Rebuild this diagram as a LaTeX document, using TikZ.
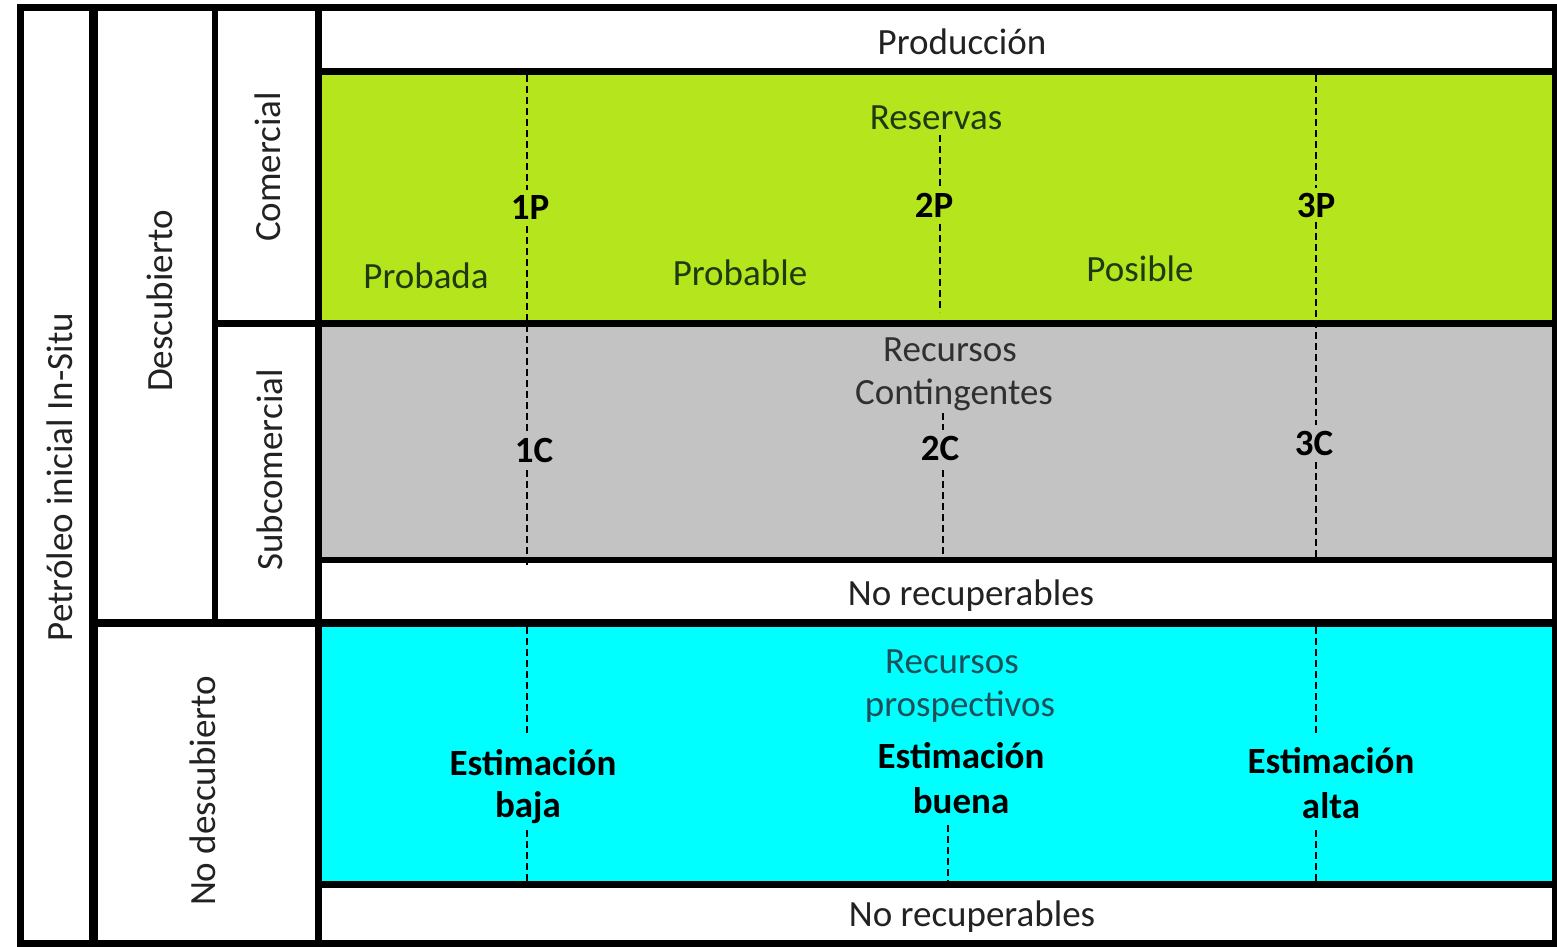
\documentclass[tikz,border=0pt]{standalone}
\usepackage{fontspec}
\setmainfont{Carlito}
\definecolor{lime}{HTML}{B5E61D}
\definecolor{grayband}{HTML}{C3C3C3}
\definecolor{cyanband}{HTML}{00FFFF}
\definecolor{txtw}{HTML}{222222}
\definecolor{txtg}{HTML}{1E3A10}
\definecolor{txtc}{HTML}{1F4F5A}
\definecolor{txtgr}{HTML}{303030}
\begin{document}
\begin{tikzpicture}[x=1pt,y=-1pt,
  every node/.style={font=\fontsize{37}{44}\selectfont, inner sep=0pt},
  lbl/.style={text=txtw},
  lblg/.style={text=txtg},
  lblc/.style={text=txtc},
  lblgr/.style={text=txtgr},
  boldlbl/.style={font=\fontsize{37}{44}\selectfont\bfseries, text=black, align=center},
  rot/.style={rotate=90, text=txtw},
  frameln/.style={draw=black, line width=#1},
  dashln/.style={draw=black, line width=1.6pt, dash pattern=on 7pt off 4pt}
]
\useasboundingbox (0,0) rectangle (1557,946);
\fill[white] (0,0) rectangle (1557,946);
% bands
\fill[lime] (318,71) rectangle (1555,323);
\fill[grayband] (318,323) rectangle (1555,560);
\fill[cyanband] (318,623) rectangle (1555,884);

% coordinates for dashed lines
\coordinate (a1) at (527,75);  \coordinate (a2) at (527,190);
\coordinate (a3) at (527,226); \coordinate (a4) at (527,432);
\coordinate (a5) at (527,470); \coordinate (a6) at (527,565);
\coordinate (a7) at (527,627); \coordinate (a8) at (527,735);
\coordinate (a9) at (527,830); \coordinate (a10) at (527,886);
\coordinate (b1) at (940,135); \coordinate (b2) at (940,186);
\coordinate (b3) at (940,224); \coordinate (b4) at (940,312);
\coordinate (b5) at (943,413); \coordinate (b6) at (943,430);
\coordinate (b7) at (943,470); \coordinate (b8) at (943,561);
\coordinate (b9) at (948,825); \coordinate (b10) at (948,886);
\coordinate (c1) at (1316,75);  \coordinate (c2) at (1316,188);
\coordinate (c3) at (1316,222); \coordinate (c4) at (1316,425);
\coordinate (c5) at (1316,462); \coordinate (c6) at (1316,561);
\coordinate (c7) at (1316,627); \coordinate (c8) at (1316,735);
\coordinate (c9) at (1316,830); \coordinate (c10) at (1316,886);
\foreach \p/\q in {a1/a2,a3/a4,a5/a6,a7/a8,a9/a10,b1/b2,b3/b4,b5/b6,b7/b8,b9/b10,c1/c2,c3/c4,c5/c6,c7/c8,c9/c10}
  \draw[dashln] (\p) -- (\q);

% frame lines
\draw[frameln=7pt] (20,7) rectangle (1555,943);
\draw[frameln=9pt] (93,7) -- (93,943);
\draw[frameln=6pt] (215,7) -- (215,623);
\draw[frameln=7pt] (318,7) -- (318,943);
\draw[frameln=7pt] (318,71) -- (1555,71);
\draw[frameln=7pt] (215,323) -- (1555,323);
\draw[frameln=6pt] (318,560) -- (1555,560);
\draw[frameln=8pt] (93,623) -- (1555,623);
\draw[frameln=7pt] (318,884) -- (1555,884);

% labels
\node[rot] (pet) at (60,477) {Petróleo inicial In-Situ};
\node[rot] (desc) at (160,301) {Descubierto};
\node[rot] (ndesc) at (203,791) {No descubierto};
\node[rot] (com) at (268,167) {Comercial};
\node[rot] (sub) at (270,470) {Subcomercial};

\node[lbl] (prod) at (962,42) {Producción};
\node[lblg] (res) at (936,118) {Reservas};
\node[boldlbl] (p1) at (530,207) {1P};
\node[boldlbl] (p2) at (934,205) {2P};
\node[boldlbl] (p3) at (1316,205) {3P};
\node[lblg] (proba) at (426,276) {Probada};
\node[lblg] (probl) at (740,273) {Probable};
\node[lblg] (posi) at (1140,269) {Posible};

\node[lblgr] (rc1) at (950,350) {Recursos};
\node[lblgr] (rc2) at (954,395) {Contingentes};
\node[boldlbl] (c1n) at (534,450) {1C};
\node[boldlbl] (c2n) at (940,448) {2C};
\node[boldlbl] (c3n) at (1314,443) {3C};

\node[lbl] (nr1) at (971,596) {No recuperables};
\node[lblc] (rp1) at (952,662) {Recursos};
\node[lblc] (rp2) at (960,707) {prospectivos};
\node[boldlbl] (eb1) at (533,763) {Estimación};
\node[boldlbl] (eb2) at (528,808) {baja};
\node[boldlbl] (eu1) at (961,756) {Estimación};
\node[boldlbl] (eu2) at (961,801) {buena};
\node[boldlbl] (ea1) at (1331,761) {Estimación};
\node[boldlbl] (ea2) at (1331,806) {alta};
\node[lbl] (nr2) at (972,917) {No recuperables};
\end{tikzpicture}
\end{document}
